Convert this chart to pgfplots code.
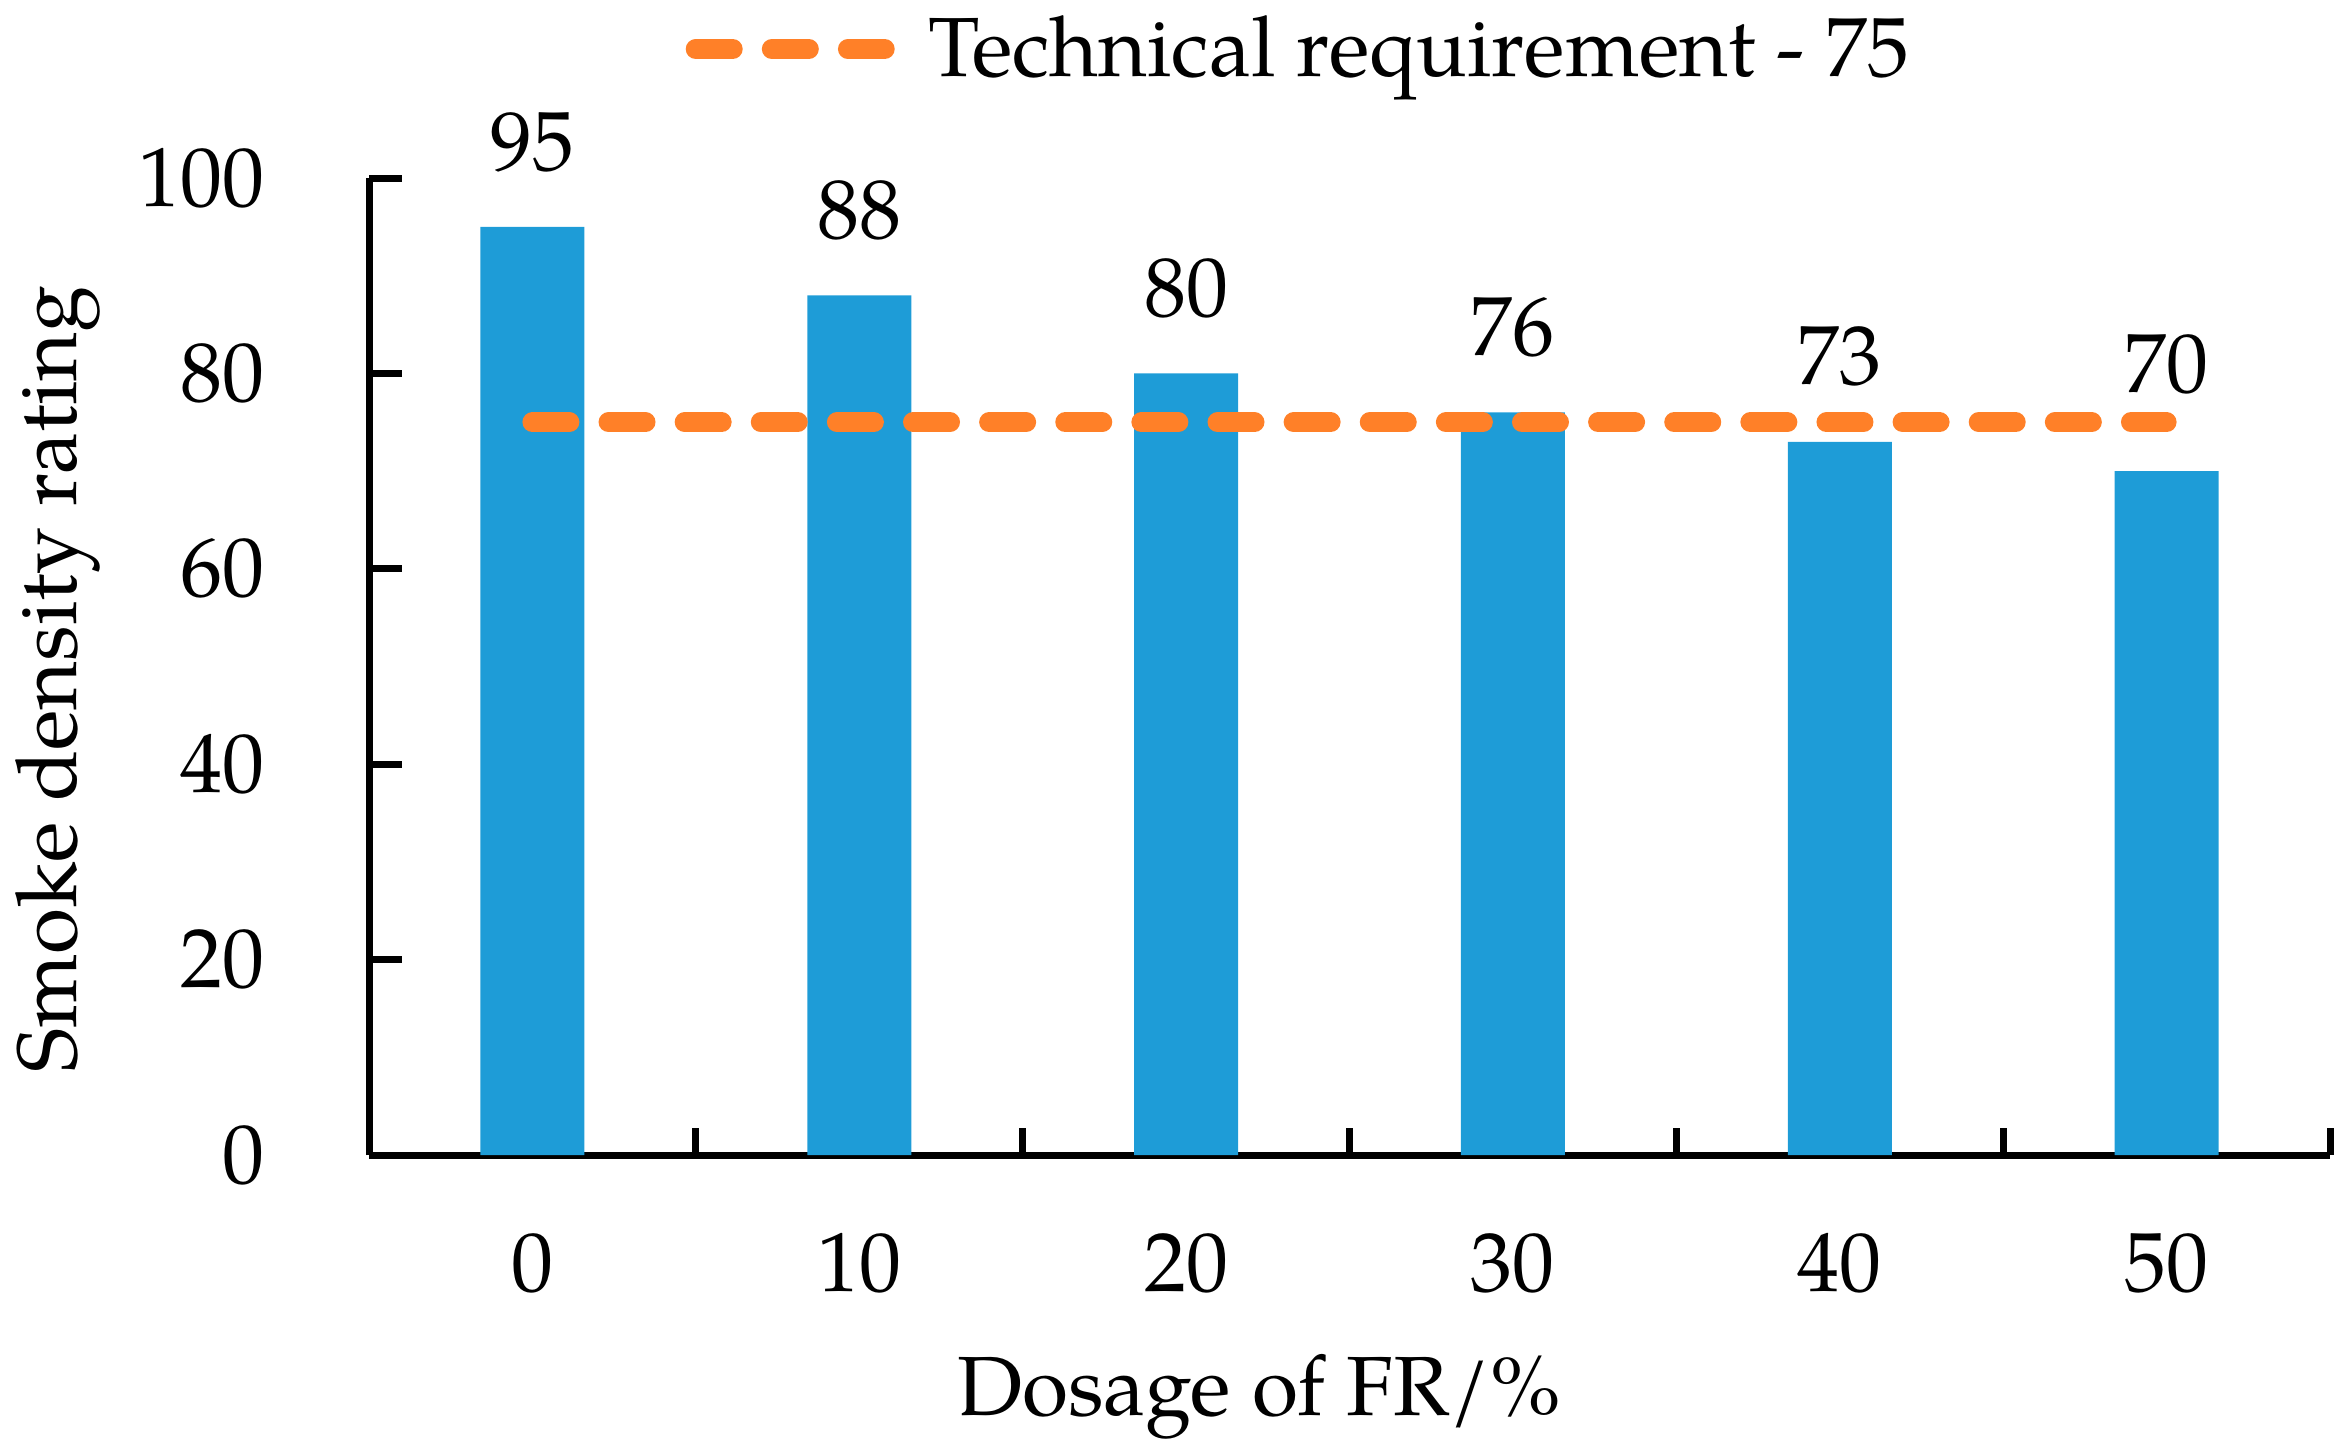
\documentclass[border=0pt]{standalone}
\usepackage{fontspec}
\setmainfont{TeX Gyre Pagella}
\usepackage{pgfplots}
\usepackage{pgfplotstable}
\pgfplotsset{compat=1.18}

\definecolor{barblue}{RGB}{30,156,215}
\definecolor{reqorange}{RGB}{255,128,40}

% x = category index, y = rating, off = extra lift of the value label (pt)
\pgfplotstableread{
x y off
0 95 10.25
1 88 10.25
2 80 10.25
3 76 10.25
4 73 10.25
5 70 15.75
}\smoke

\begin{document}
\begin{tikzpicture}[font=\fontsize{21}{25}\selectfont]
  \useasboundingbox (-92.25pt,-73.5pt) rectangle (492.75pt,288.75pt);
  \begin{axis}[
      at={(0pt,0pt)}, anchor=south west,
      scale only axis,
      width=490.25pt, height=244.25pt,
      xmin=-0.5, xmax=5.5,
      ymin=0, ymax=100,
      axis x line*=bottom,
      axis y line*=left,
      axis line style={line width=1.75pt},
      every tick/.style={black, line width=1.75pt},
      tick align=inside,
      xtick={0,1,2,3,4,5},
      xticklabels={0,10,20,30,40,50},
      major x tick style={draw=none},
      minor xtick={-0.5,0.5,1.5,2.5,3.5,4.5,5.5},
      minor tick length=6.75pt,
      ytick={0,20,40,60,80,100},
      major tick length=8.25pt,
      /pgf/number format/assume math mode=true,
      yticklabel style={xshift=-22.5pt},
      xticklabel style={yshift=-16pt},
      xlabel={Dosage of FR/\%},
      xlabel style={at={(axis description cs:0.454,0)}, anchor=base, yshift=-65pt},
      ylabel={Smoke density rating},
      ylabel style={at={(axis description cs:-0.1494,0.487)}, anchor=base},
      clip=false,
      legend style={
        at={(axis description cs:0.1615,1.132)}, anchor=west,
        draw=none, fill=none, inner sep=0pt, outer sep=0pt,
        nodes={inner sep=0pt},
        /tikz/every odd column/.append style={column sep=8.5pt},
      },
      legend image code/.code={
        \draw[#1] (0pt,0pt) -- (47.25pt,0pt);
      },
    ]
    \addplot[ybar, bar width=26pt, bar shift=0pt, fill=barblue, draw=none,
      forget plot,
      visualization depends on={\thisrow{off} \as \lift},
      nodes near coords,
      point meta=explicit symbolic,
      every node near coord/.append style={black, yshift=\lift pt,
        /pgf/number format/assume math mode=true},
    ] table[x=x, y=y, meta=y] {\smoke};
    \addplot[reqorange, line width=5pt, line cap=round,
      dash pattern=on 9.25pt off 9.78pt]
      coordinates {(0,75) (5,75)};
    \addlegendentry{Technical requirement - 75}
  \end{axis}
\end{tikzpicture}
\end{document}
